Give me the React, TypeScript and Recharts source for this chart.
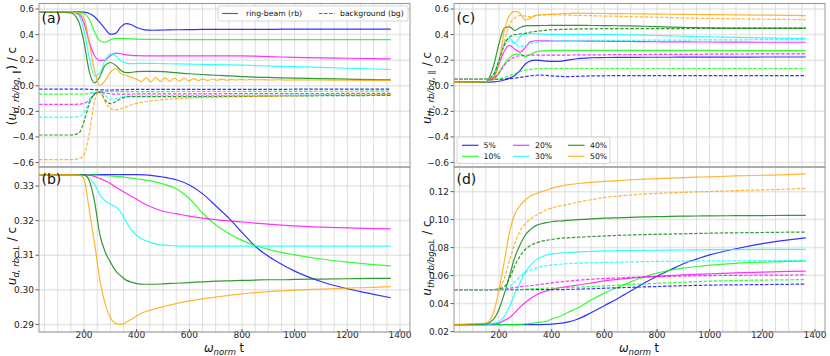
import React from 'react';
import { LineChart, Line, XAxis, YAxis, CartesianGrid } from 'recharts';

const FONT = 'DejaVu Sans, Verdana, sans-serif';

// common time grid (omega_norm t)
const X = [29, 150, 180, 200, 220, 240, 260, 280, 300, 320, 340, 360, 380, 400, 430, 460, 500, 550, 600, 650, 700, 750, 800, 850, 900, 950, 1000, 1100, 1200, 1300, 1365];

const X_TICKS = [200, 400, 600, 800, 1000, 1200, 1400];
const GRID_X = [50, 100, 150, 200, 250, 300, 350, 400, 450, 500, 550, 600, 650, 700, 750, 800, 850, 900, 950, 1000, 1050, 1100, 1150, 1200, 1250, 1300, 1350, 1400];
const Y_TICKS_PAR = [-0.6, -0.4, -0.2, 0, 0.2, 0.4, 0.6];
const Y_TICKS_B = [0.29, 0.3, 0.31, 0.32, 0.33];
const Y_TICKS_D = [0.02, 0.04, 0.06, 0.08, 0.1, 0.12];

const COLORS = ['#0000ff', '#00ff00', '#ff00ff', '#00ffff', '#008000', '#ffa500'];
const LABELS = ['5%', '10%', '20%', '30%', '40%', '50%'];

// ---------- panel (a): drift velocity parallel ----------
const A_RB_5 = [0.577, 0.577, 0.577, 0.575, 0.565, 0.54, 0.495, 0.445, 0.403, 0.41, 0.46, 0.485, 0.477, 0.455, 0.437, 0.434, 0.436, 0.438, 0.439, 0.44, 0.44, 0.44, 0.441, 0.441, 0.441, 0.442, 0.442, 0.442, 0.443, 0.443, 0.443];
const A_RB_10 = [0.577, 0.577, 0.575, 0.565, 0.52, 0.42, 0.352, 0.34, 0.36, 0.37, 0.37, 0.368, 0.366, 0.364, 0.363, 0.362, 0.362, 0.361, 0.361, 0.361, 0.361, 0.361, 0.361, 0.361, 0.361, 0.361, 0.361, 0.361, 0.361, 0.361, 0.361];
const A_RB_20 = [0.577, 0.577, 0.56, 0.49, 0.34, 0.235, 0.197, 0.2, 0.235, 0.255, 0.25, 0.242, 0.237, 0.235, 0.234, 0.234, 0.234, 0.234, 0.234, 0.234, 0.234, 0.234, 0.233, 0.231, 0.228, 0.225, 0.222, 0.218, 0.215, 0.212, 0.21];
const A_RB_30 = [0.577, 0.575, 0.55, 0.43, 0.22, 0.075, 0.1, 0.2, 0.25, 0.235, 0.195, 0.177, 0.173, 0.174, 0.175, 0.175, 0.173, 0.171, 0.169, 0.167, 0.165, 0.163, 0.161, 0.158, 0.155, 0.152, 0.149, 0.143, 0.137, 0.131, 0.127];
const A_RB_40 = [0.577, 0.57, 0.5, 0.34, 0.11, 0.022, 0.07, 0.16, 0.182, 0.16, 0.12, 0.103, 0.105, 0.11, 0.112, 0.112, 0.11, 0.102, 0.094, 0.088, 0.082, 0.077, 0.072, 0.068, 0.065, 0.062, 0.06, 0.056, 0.052, 0.048, 0.046];
// 50 % ring-beam has its own finer time grid (it oscillates)
const ORANGE_A_X = [29, 150, 180, 200, 220, 240, 260, 280, 300, 320, 340, 360, 380, 400, 418, 436, 454, 472, 490, 508, 526, 544, 562, 580, 598, 616, 634, 652, 670, 688, 706, 724, 742, 760, 778, 796, 814, 832, 850, 880, 910, 940, 970, 1000, 1100, 1200, 1300, 1365];
const ORANGE_A_RB = [0.577, 0.577, 0.57, 0.53, 0.33, 0.12, 0.003, 0.04, 0.105, 0.135, 0.095, 0.08, 0.066, 0.05, 0.033, 0.062, 0.031, 0.063, 0.033, 0.062, 0.035, 0.06, 0.036, 0.058, 0.038, 0.056, 0.04, 0.054, 0.041, 0.053, 0.043, 0.052, 0.043, 0.05, 0.044, 0.05, 0.045, 0.049, 0.046, 0.048, 0.045, 0.047, 0.044, 0.046, 0.045, 0.043, 0.042, 0.041];

const A_BG_5 = [-0.027, -0.027, -0.027, -0.027, -0.028, -0.03, -0.032, -0.033, -0.033, -0.032, -0.031, -0.03, -0.029, -0.029, -0.028, -0.028, -0.028, -0.028, -0.028, -0.028, -0.028, -0.028, -0.028, -0.028, -0.028, -0.028, -0.027, -0.027, -0.027, -0.027, -0.027];
const A_BG_10 = [-0.065, -0.065, -0.065, -0.064, -0.06, -0.052, -0.045, -0.043, -0.044, -0.045, -0.046, -0.046, -0.046, -0.046, -0.046, -0.046, -0.046, -0.045, -0.045, -0.045, -0.045, -0.045, -0.045, -0.044, -0.044, -0.044, -0.044, -0.043, -0.043, -0.042, -0.042];
const A_BG_20 = [-0.145, -0.145, -0.144, -0.138, -0.11, -0.07, -0.052, -0.055, -0.062, -0.066, -0.066, -0.065, -0.065, -0.064, -0.064, -0.064, -0.064, -0.063, -0.063, -0.063, -0.063, -0.062, -0.062, -0.062, -0.062, -0.061, -0.061, -0.061, -0.06, -0.06, -0.06];
const A_BG_30 = [-0.245, -0.245, -0.24, -0.21, -0.12, -0.055, -0.045, -0.075, -0.105, -0.1, -0.088, -0.082, -0.08, -0.08, -0.079, -0.079, -0.078, -0.078, -0.077, -0.077, -0.076, -0.076, -0.075, -0.075, -0.074, -0.074, -0.073, -0.072, -0.071, -0.07, -0.07];
const A_BG_40 = [-0.385, -0.385, -0.37, -0.28, -0.14, -0.063, -0.05, -0.11, -0.14, -0.125, -0.1, -0.088, -0.085, -0.085, -0.085, -0.085, -0.085, -0.085, -0.085, -0.084, -0.084, -0.083, -0.083, -0.082, -0.081, -0.08, -0.08, -0.078, -0.077, -0.076, -0.075];
const A_BG_50 = [-0.577, -0.577, -0.57, -0.54, -0.37, -0.12, -0.045, -0.13, -0.175, -0.188, -0.18, -0.165, -0.15, -0.138, -0.125, -0.117, -0.108, -0.1, -0.095, -0.092, -0.09, -0.088, -0.086, -0.084, -0.082, -0.08, -0.078, -0.075, -0.072, -0.07, -0.068];

// ---------- panel (b): drift velocity perpendicular (ring-beam) ----------
const B_RB_5 = [0.3333, 0.3333, 0.3333, 0.3333, 0.3333, 0.3333, 0.3333, 0.3333, 0.3333, 0.3333, 0.3333, 0.3333, 0.3333, 0.3333, 0.3332, 0.333, 0.3326, 0.3318, 0.3303, 0.3278, 0.3243, 0.3207, 0.3166, 0.3126, 0.3097, 0.3074, 0.3054, 0.3024, 0.3003, 0.2987, 0.2977];
const B_RB_10 = [0.3333, 0.3333, 0.3333, 0.3333, 0.3333, 0.3332, 0.3331, 0.333, 0.3329, 0.3328, 0.3327, 0.3325, 0.3323, 0.3321, 0.3318, 0.3314, 0.3306, 0.3292, 0.3264, 0.3222, 0.3188, 0.3163, 0.3143, 0.3128, 0.3117, 0.3108, 0.3101, 0.3089, 0.308, 0.3073, 0.3069];
const B_RB_20 = [0.3333, 0.3333, 0.3333, 0.3333, 0.3331, 0.3328, 0.3322, 0.3315, 0.3307, 0.3297, 0.3288, 0.3279, 0.327, 0.3262, 0.3248, 0.3238, 0.3227, 0.322, 0.3213, 0.3207, 0.3203, 0.3199, 0.3196, 0.3193, 0.319, 0.3187, 0.3185, 0.3181, 0.3179, 0.3177, 0.3176];
const B_RB_30 = [0.3333, 0.3333, 0.3333, 0.3332, 0.3322, 0.3305, 0.3275, 0.3258, 0.3247, 0.324, 0.3224, 0.3197, 0.3173, 0.3157, 0.3143, 0.3135, 0.3129, 0.3127, 0.3126, 0.3126, 0.3126, 0.3126, 0.3126, 0.3126, 0.3126, 0.3126, 0.3126, 0.3126, 0.3126, 0.3126, 0.3126];
const B_RB_40 = [0.3333, 0.3333, 0.3333, 0.3332, 0.3315, 0.3255, 0.316, 0.311, 0.308, 0.3055, 0.304, 0.3028, 0.3022, 0.3018, 0.3016, 0.3016, 0.3017, 0.3019, 0.3021, 0.3023, 0.3025, 0.3026, 0.3027, 0.3028, 0.3029, 0.3029, 0.303, 0.3031, 0.3032, 0.3033, 0.3033];
const B_RB_50 = [0.3333, 0.3333, 0.3332, 0.332, 0.323, 0.3135, 0.303, 0.296, 0.292, 0.2903, 0.29, 0.2906, 0.2915, 0.2925, 0.2936, 0.2943, 0.2951, 0.296, 0.2968, 0.2974, 0.2979, 0.2984, 0.2988, 0.2992, 0.2995, 0.2997, 0.2999, 0.3002, 0.3005, 0.3007, 0.3009];

// ---------- panel (c): thermal velocity parallel ----------
const C_RB_5 = [0.027, 0.027, 0.03, 0.035, 0.045, 0.06, 0.08, 0.12, 0.17, 0.195, 0.2, 0.197, 0.193, 0.19, 0.19, 0.2, 0.213, 0.219, 0.221, 0.222, 0.222, 0.223, 0.223, 0.223, 0.224, 0.224, 0.224, 0.224, 0.225, 0.225, 0.225];
const C_RB_10 = [0.027, 0.028, 0.05, 0.1, 0.17, 0.22, 0.245, 0.25, 0.228, 0.245, 0.265, 0.272, 0.275, 0.276, 0.276, 0.276, 0.276, 0.276, 0.276, 0.276, 0.276, 0.276, 0.276, 0.276, 0.276, 0.276, 0.276, 0.275, 0.275, 0.275, 0.275];
const C_RB_20 = [0.027, 0.03, 0.07, 0.17, 0.27, 0.315, 0.285, 0.262, 0.3, 0.345, 0.352, 0.352, 0.351, 0.35, 0.35, 0.35, 0.35, 0.349, 0.348, 0.347, 0.346, 0.345, 0.344, 0.343, 0.343, 0.342, 0.342, 0.341, 0.34, 0.34, 0.34];
const C_RB_30 = [0.027, 0.03, 0.09, 0.2, 0.33, 0.37, 0.332, 0.385, 0.405, 0.408, 0.405, 0.403, 0.402, 0.402, 0.402, 0.402, 0.402, 0.401, 0.4, 0.399, 0.398, 0.396, 0.393, 0.39, 0.388, 0.385, 0.383, 0.378, 0.374, 0.371, 0.37];
const C_RB_40 = [0.027, 0.03, 0.16, 0.33, 0.45, 0.46, 0.432, 0.455, 0.468, 0.47, 0.47, 0.471, 0.471, 0.472, 0.472, 0.472, 0.472, 0.471, 0.47, 0.469, 0.468, 0.465, 0.462, 0.459, 0.456, 0.454, 0.452, 0.451, 0.45, 0.45, 0.45];
const C_RB_50 = [0.027, 0.03, 0.05, 0.19, 0.43, 0.55, 0.582, 0.565, 0.513, 0.53, 0.55, 0.555, 0.557, 0.56, 0.563, 0.565, 0.567, 0.566, 0.565, 0.564, 0.563, 0.562, 0.56, 0.559, 0.558, 0.557, 0.556, 0.554, 0.552, 0.55, 0.548];

const C_BG_5 = [0.05, 0.05, 0.05, 0.05, 0.052, 0.055, 0.06, 0.066, 0.072, 0.078, 0.082, 0.083, 0.081, 0.077, 0.073, 0.072, 0.074, 0.077, 0.078, 0.079, 0.079, 0.079, 0.08, 0.08, 0.08, 0.08, 0.08, 0.08, 0.08, 0.08, 0.08];
const C_BG_10 = [0.05, 0.05, 0.05, 0.055, 0.065, 0.08, 0.095, 0.11, 0.12, 0.128, 0.133, 0.135, 0.135, 0.135, 0.135, 0.135, 0.135, 0.135, 0.135, 0.135, 0.135, 0.135, 0.135, 0.135, 0.135, 0.135, 0.135, 0.135, 0.135, 0.135, 0.135];
const C_BG_20 = [0.05, 0.05, 0.06, 0.1, 0.16, 0.2, 0.225, 0.235, 0.238, 0.24, 0.24, 0.24, 0.24, 0.24, 0.24, 0.24, 0.241, 0.241, 0.242, 0.243, 0.243, 0.244, 0.245, 0.245, 0.246, 0.246, 0.247, 0.248, 0.249, 0.25, 0.25];
const C_BG_30 = [0.05, 0.05, 0.09, 0.2, 0.31, 0.35, 0.33, 0.305, 0.315, 0.33, 0.34, 0.345, 0.348, 0.35, 0.352, 0.353, 0.354, 0.355, 0.355, 0.355, 0.355, 0.356, 0.356, 0.357, 0.357, 0.358, 0.358, 0.359, 0.36, 0.36, 0.36];
const C_BG_40 = [0.05, 0.05, 0.09, 0.2, 0.32, 0.38, 0.4, 0.405, 0.41, 0.42, 0.425, 0.43, 0.435, 0.438, 0.44, 0.442, 0.444, 0.445, 0.446, 0.446, 0.447, 0.447, 0.447, 0.447, 0.447, 0.448, 0.448, 0.448, 0.448, 0.448, 0.448];
const C_BG_50 = [0.05, 0.05, 0.07, 0.17, 0.35, 0.48, 0.53, 0.55, 0.545, 0.54, 0.55, 0.553, 0.555, 0.556, 0.555, 0.553, 0.55, 0.548, 0.545, 0.543, 0.54, 0.538, 0.535, 0.533, 0.53, 0.528, 0.527, 0.523, 0.52, 0.518, 0.517];

// ---------- panel (d): thermal velocity perpendicular ----------
const D_RB_5 = [0.025, 0.025, 0.025, 0.025, 0.025, 0.025, 0.025, 0.025, 0.025, 0.025, 0.025, 0.025, 0.0251, 0.0253, 0.0258, 0.0268, 0.029, 0.0335, 0.0385, 0.0435, 0.049, 0.0545, 0.0595, 0.064, 0.0685, 0.0718, 0.0748, 0.0792, 0.0828, 0.0855, 0.087];
const D_RB_10 = [0.025, 0.025, 0.025, 0.025, 0.025, 0.025, 0.025, 0.0252, 0.0255, 0.0258, 0.0262, 0.0267, 0.0273, 0.029, 0.0308, 0.0335, 0.037, 0.0425, 0.0475, 0.0515, 0.0555, 0.059, 0.0618, 0.0638, 0.0653, 0.0665, 0.0675, 0.0688, 0.0696, 0.0701, 0.0703];
const D_RB_20 = [0.025, 0.025, 0.0255, 0.026, 0.028, 0.03, 0.0335, 0.0375, 0.0408, 0.0437, 0.046, 0.0478, 0.049, 0.0501, 0.0513, 0.0522, 0.0533, 0.0547, 0.0562, 0.0573, 0.0582, 0.0589, 0.0595, 0.06, 0.0605, 0.0609, 0.0613, 0.062, 0.0625, 0.063, 0.0632];
const D_RB_30 = [0.025, 0.025, 0.026, 0.027, 0.031, 0.038, 0.047, 0.055, 0.0625, 0.0675, 0.0712, 0.0733, 0.0746, 0.0754, 0.076, 0.0765, 0.0769, 0.0773, 0.0776, 0.0778, 0.0779, 0.078, 0.0781, 0.0782, 0.0783, 0.0784, 0.0785, 0.0786, 0.0787, 0.0788, 0.0788];
const D_RB_40 = [0.025, 0.0255, 0.029, 0.036, 0.047, 0.06, 0.073, 0.082, 0.089, 0.093, 0.0957, 0.097, 0.0978, 0.0985, 0.099, 0.0995, 0.1, 0.1005, 0.101, 0.1013, 0.1016, 0.1019, 0.1021, 0.1023, 0.1025, 0.1026, 0.1027, 0.1028, 0.1029, 0.103, 0.103];
const D_RB_50 = [0.025, 0.026, 0.034, 0.05, 0.07, 0.091, 0.104, 0.11, 0.114, 0.117, 0.1185, 0.12, 0.121, 0.1225, 0.1238, 0.1248, 0.1258, 0.1266, 0.1273, 0.1279, 0.1284, 0.1289, 0.1293, 0.1297, 0.13, 0.1303, 0.1306, 0.1312, 0.1317, 0.1322, 0.1327];

const D_BG_5 = [0.05, 0.05, 0.05, 0.05, 0.05, 0.05, 0.05, 0.05, 0.05, 0.05, 0.05, 0.05, 0.05, 0.05, 0.05, 0.0501, 0.0503, 0.0506, 0.051, 0.0513, 0.0516, 0.0519, 0.0522, 0.0525, 0.0528, 0.053, 0.0532, 0.0534, 0.0536, 0.0538, 0.054];
const D_BG_10 = [0.05, 0.05, 0.05, 0.05, 0.05, 0.05, 0.05, 0.05, 0.0503, 0.0505, 0.0507, 0.0509, 0.051, 0.0511, 0.0513, 0.0515, 0.0518, 0.0522, 0.0527, 0.0532, 0.0537, 0.0541, 0.0545, 0.0549, 0.0553, 0.0557, 0.056, 0.0565, 0.0568, 0.057, 0.0572];
const D_BG_20 = [0.05, 0.05, 0.05, 0.0501, 0.0505, 0.051, 0.0515, 0.052, 0.0524, 0.0528, 0.0533, 0.0538, 0.0543, 0.0548, 0.0555, 0.056, 0.0567, 0.0574, 0.0579, 0.0583, 0.0587, 0.059, 0.0593, 0.0595, 0.0597, 0.0599, 0.06, 0.0602, 0.0603, 0.0604, 0.0605];
const D_BG_30 = [0.05, 0.05, 0.05, 0.05, 0.0505, 0.052, 0.0555, 0.0592, 0.0622, 0.0638, 0.0652, 0.0664, 0.067, 0.0675, 0.0681, 0.0685, 0.0689, 0.0692, 0.0694, 0.0696, 0.0698, 0.07, 0.0701, 0.0702, 0.0703, 0.0704, 0.0705, 0.0706, 0.0707, 0.0708, 0.0708];
const D_BG_40 = [0.05, 0.05, 0.05, 0.0505, 0.052, 0.058, 0.067, 0.074, 0.0788, 0.0815, 0.0832, 0.0845, 0.0852, 0.0858, 0.0866, 0.087, 0.0874, 0.0879, 0.0883, 0.0887, 0.089, 0.0893, 0.0895, 0.0897, 0.0899, 0.0901, 0.0903, 0.0906, 0.0908, 0.091, 0.091];
const D_BG_50 = [0.05, 0.05, 0.05, 0.051, 0.058, 0.071, 0.083, 0.092, 0.097, 0.1005, 0.103, 0.105, 0.107, 0.1083, 0.1097, 0.1108, 0.1125, 0.1142, 0.1158, 0.1168, 0.1176, 0.1182, 0.1187, 0.1191, 0.1195, 0.1198, 0.1201, 0.1207, 0.1212, 0.1218, 0.1223];

type Row = Record<string, number>;

function buildRows(rb: number[][], bg: number[][]): Row[] {
  return X.map((x, i) => {
    const row: Row = { x };
    rb.forEach((s, k) => { row['rb' + k] = s[i]; });
    bg.forEach((s, k) => { row['bg' + k] = s[i]; });
    return row;
  });
}

const DATA_A = buildRows([A_RB_5, A_RB_10, A_RB_20, A_RB_30, A_RB_40], [A_BG_5, A_BG_10, A_BG_20, A_BG_30, A_BG_40, A_BG_50]);
const DATA_A_ORANGE = ORANGE_A_X.map((x, i) => ({ x, y: ORANGE_A_RB[i] }));
const DATA_B = buildRows([B_RB_5, B_RB_10, B_RB_20, B_RB_30, B_RB_40, B_RB_50], []);
const DATA_C = buildRows([C_RB_5, C_RB_10, C_RB_20, C_RB_30, C_RB_40, C_RB_50], [C_BG_5, C_BG_10, C_BG_20, C_BG_30, C_BG_40, C_BG_50]);
const DATA_D = buildRows([D_RB_5, D_RB_10, D_RB_20, D_RB_30, D_RB_40, D_RB_50], [D_BG_5, D_BG_10, D_BG_20, D_BG_30, D_BG_40, D_BG_50]);

const MINUS = '\u2212';
const fmtPar = (v: number) => v.toFixed(1).replace('-', MINUS);
const fmt2 = (v: number) => v.toFixed(2);

const LINE_W = 1.2;
const LINE_OP = 0.8;
const DASH = '3.5 1.6';

type PanelProps = {
  left: number;
  top: number;
  isBottom: boolean;
  data: Row[];
  rbCount: number;
  bgCount: number;
  yDomain: [number, number];
  yTicks: number[];
  yFmt: (v: number) => string;
  extra?: React.ReactNode;
};

function Panel({ left, top, isBottom, data, rbCount, bgCount, yDomain, yTicks, yFmt, extra }: PanelProps) {
  const width = 415;
  const height = isBottom ? 196 : 172;
  const margin = isBottom ? { top: 7, right: 5, bottom: 0, left: 0 } : { top: 3.5, right: 5, bottom: 5, left: 0 };
  const tickStyle = { fontSize: 9, fill: '#222', fontFamily: FONT };
  const rbIdx = Array.from({ length: rbCount }, (_, k) => k);
  const bgIdx = Array.from({ length: bgCount }, (_, k) => k);
  return (
    <div style={{ position: 'absolute', left, top, width, height }}>
      <LineChart width={width} height={height} margin={margin} data={data}>
        <CartesianGrid vertical={false} stroke="#e6e6e6" strokeWidth={1.5} />
        <CartesianGrid horizontal={false} verticalValues={GRID_X} stroke="#d6d6d6" strokeWidth={0.8} />
        <XAxis
          type="number"
          dataKey="x"
          domain={[29, 1438]}
          allowDataOverflow
          ticks={X_TICKS}
          interval={0}
          axisLine={false}
          tickLine={{ stroke: '#333', strokeWidth: 0.8 }}
          tickSize={-3}
          tickMargin={3}
          height={isBottom ? 24 : 0}
          tick={tickStyle}
          tickFormatter={isBottom ? (v: number) => String(v) : () => ''}
        />
        <YAxis
          type="number"
          domain={yDomain}
          allowDataOverflow
          ticks={yTicks}
          interval={0}
          width={39}
          axisLine={false}
          tickLine={{ stroke: '#333', strokeWidth: 0.8 }}
          tickSize={3.5}
          tickMargin={1.5}
          tick={tickStyle}
          tickFormatter={yFmt}
        />
        {rbIdx.map((k) => (
          <Line key={'rb' + k} type="monotone" dataKey={'rb' + k} stroke={COLORS[k]} strokeOpacity={LINE_OP}
            strokeWidth={LINE_W} dot={false} activeDot={false} isAnimationActive={false} />
        ))}
        {extra}
        {bgIdx.map((k) => (
          <Line key={'bg' + k} type="monotone" dataKey={'bg' + k} stroke={COLORS[k]} strokeOpacity={LINE_OP}
            strokeWidth={LINE_W} strokeDasharray={DASH} dot={false} activeDot={false} isAnimationActive={false} />
        ))}
      </LineChart>
    </div>
  );
}

function YTitle({ x, y, sub, pre, post }: { x: number; y: number; sub: string; pre: string; post: string }) {
  return (
    <text transform={`translate(${x},${y}) rotate(-90)`} textAnchor="middle" fontSize={12} fontFamily={FONT} fill="#111">
      {pre}
      <tspan fontStyle="italic">u</tspan>
      <tspan fontStyle="italic" fontSize={8.5} dy={3}>{sub}</tspan>
      <tspan dy={-3}>{post}</tspan>
    </text>
  );
}

function XTitle({ x, y }: { x: number; y: number }) {
  return (
    <text x={x} y={y} textAnchor="middle" fontSize={11.5} fontFamily={FONT} fill="#111">
      <tspan fontStyle="italic">ω</tspan>
      <tspan fontStyle="italic" fontSize={8.5} dy={2.5}>norm</tspan>
      <tspan dy={-2.5}> t</tspan>
    </text>
  );
}

function Overlay() {
  const border = '#999';
  const legendFont = 7.7;
  const legendCols = [
    { lx: 462, tx: 483.5 },
    { lx: 513, tx: 535 },
    { lx: 568, tx: 590 },
  ];
  const rowsY = [145.3, 156.3];
  return (
    <svg width={830} height={356} style={{ position: 'absolute', left: 0, top: 0, pointerEvents: 'none' }}>
      <rect x={39} y={3.5} width={371} height={163.5} fill="none" stroke={border} strokeWidth={1} />
      <rect x={39} y={167} width={371} height={165} fill="none" stroke={border} strokeWidth={1} />
      <rect x={454} y={3.5} width={371} height={163.5} fill="none" stroke={border} strokeWidth={1} />
      <rect x={454} y={167} width={371} height={165} fill="none" stroke={border} strokeWidth={1} />

      <text x={41.5} y={23} fontSize={14} fontFamily={FONT} fill="#111">(a)</text>
      <text x={41.5} y={184} fontSize={14} fontFamily={FONT} fill="#111">(b)</text>
      <text x={456.5} y={23} fontSize={14} fontFamily={FONT} fill="#111">(c)</text>
      <text x={456.5} y={184} fontSize={14} fontFamily={FONT} fill="#111">(d)</text>

      <YTitle x={16} y={86} pre="(" sub="d, rb/bg, ∥" post=") / c" />
      <YTitle x={16} y={256} pre="" sub="d, rb, ⊥" post=" / c" />
      <YTitle x={431} y={88} pre="" sub="th, rb/bg, ∥" post=" / c" />
      <YTitle x={431} y={258} pre="" sub="th, rb/bg, ⊥" post=" / c" />

      <XTitle x={224} y={352} />
      <XTitle x={639} y={352} />

      {/* style legend in (a) */}
      <rect x={218} y={6} width={190} height={15} rx={2} fill="#fff" fillOpacity={0.85} stroke="#ccc" strokeWidth={0.8} />
      <line x1={222} y1={13.5} x2={238} y2={13.5} stroke="#666" strokeWidth={LINE_W} />
      <text x={246} y={16.2} fontSize={legendFont} fontFamily={FONT} fill="#111">ring-beam (rb)</text>
      <line x1={319} y1={13.5} x2={335} y2={13.5} stroke="#666" strokeWidth={LINE_W} strokeDasharray={DASH} />
      <text x={340} y={16.2} fontSize={legendFont} fontFamily={FONT} fill="#111">background (bg)</text>

      {/* colour legend in (c) */}
      <rect x={457} y={137} width={153} height={26.5} rx={2} fill="#fff" fillOpacity={0.85} stroke="#ccc" strokeWidth={0.8} />
      {LABELS.map((lab, i) => {
        const col = legendCols[Math.floor(i / 2)];
        const ry = rowsY[i % 2];
        return (
          <g key={lab}>
            <line x1={col.lx} y1={ry} x2={col.lx + 16.5} y2={ry} stroke={COLORS[i]} strokeOpacity={LINE_OP} strokeWidth={LINE_W} />
            <text x={col.tx} y={ry + 2.7} fontSize={legendFont} fontFamily={FONT} fill="#111">{lab}</text>
          </g>
        );
      })}
    </svg>
  );
}

export default function App() {
  return (
    <div style={{ position: 'absolute', left: 0, top: 0, width: 830, height: 356, background: '#fff', overflow: 'hidden' }}>
      <Panel left={0} top={0} isBottom={false} data={DATA_A} rbCount={5} bgCount={6}
        yDomain={[-0.635, 0.643]} yTicks={Y_TICKS_PAR} yFmt={fmtPar}
        extra={<Line key="rb5" data={DATA_A_ORANGE} type="monotone" dataKey="y" stroke={COLORS[5]} strokeOpacity={LINE_OP}
          strokeWidth={LINE_W} dot={false} activeDot={false} isAnimationActive={false} />} />
      <Panel left={0} top={160} isBottom data={DATA_B} rbCount={6} bgCount={0}
        yDomain={[0.2878, 0.3355]} yTicks={Y_TICKS_B} yFmt={fmt2} />
      <Panel left={415} top={0} isBottom={false} data={DATA_C} rbCount={6} bgCount={6}
        yDomain={[-0.635, 0.643]} yTicks={Y_TICKS_PAR} yFmt={fmtPar} />
      <Panel left={415} top={160} isBottom data={DATA_D} rbCount={6} bgCount={6}
        yDomain={[0.0197, 0.1376]} yTicks={Y_TICKS_D} yFmt={fmt2} />
      <Overlay />
    </div>
  );
}
